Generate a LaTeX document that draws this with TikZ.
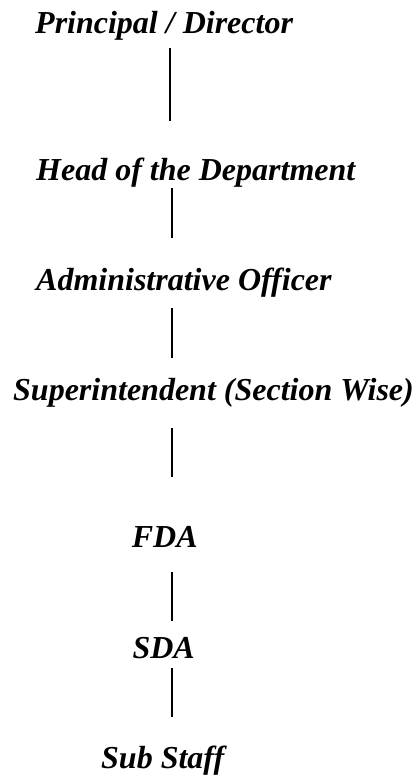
\documentclass[tikz,border=0pt]{standalone}
\usepackage{fontspec}
\setmainfont{Liberation Serif}
\begin{document}
\begin{tikzpicture}[x=1pt,y=-1pt,
  lbl/.style={anchor=base west,inner sep=0pt,font=\fontsize{32}{38}\selectfont\bfseries\itshape},
  conn/.style={line width=1.6pt}]
\useasboundingbox (0,0) rectangle (415,776);
\node[lbl] (pd) at (35,33.3) {Principal / Director};
\node[lbl] (hd) at (36,180) {Head of the Department};
\node[lbl] (ao) at (36,290.7) {Administrative Officer};
\node[lbl] (su) at (13,400) {Superintendent (Section Wise)};
\node[lbl] (fda) at (131.7,547.3) {FDA};
\node[lbl] (sda) at (132.3,658.3) {SDA};
\node[lbl] (ss) at (101,768.3) {Sub Staff};
\coordinate (l1a) at (170,47.7);   \coordinate (l1b) at (170,120.7);
\coordinate (l2a) at (171.7,188);  \coordinate (l2b) at (171.7,237.7);
\coordinate (l3a) at (171.7,308);  \coordinate (l3b) at (171.7,357.7);
\coordinate (l4a) at (171.7,428.3);\coordinate (l4b) at (171.7,477.3);
\coordinate (l5a) at (171.7,572.3);\coordinate (l5b) at (171.7,621);
\coordinate (l6a) at (171.7,668.3);\coordinate (l6b) at (171.7,717.3);
\draw[conn] (l1a) -- (l1b);
\draw[conn] (l2a) -- (l2b);
\draw[conn] (l3a) -- (l3b);
\draw[conn] (l4a) -- (l4b);
\draw[conn] (l5a) -- (l5b);
\draw[conn] (l6a) -- (l6b);
\end{tikzpicture}
\end{document}
